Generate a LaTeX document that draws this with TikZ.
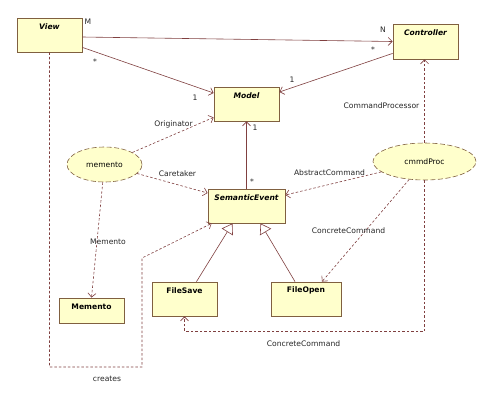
\documentclass[tikz,border=0pt]{standalone}
\usepackage{fontspec}
\setmainfont{DejaVu Sans}
\usetikzlibrary{arrows.meta,shapes.geometric}
\definecolor{boxfill}{RGB}{255,255,204}
\definecolor{boxline}{RGB}{128,96,64}
\definecolor{conn}{RGB}{128,64,64}
\begin{document}
\begin{tikzpicture}[x=1pt,y=-1pt,
 font=\fontsize{7.6}{9}\selectfont,
 cls/.style={draw=boxline, fill=boxfill, line width=0.8pt, inner sep=0pt},
 ttl/.style={font=\fontsize{7.6}{9}\selectfont\bfseries, inner sep=0pt},
 obj/.style={ellipse, draw=boxline, fill=boxfill, dash pattern=on 5pt off 2.5pt, line width=0.6pt, inner sep=0pt},
 assoc/.style={draw=conn, line width=0.6pt, -{Straight Barb[length=4pt,width=8pt]}},
 dep/.style={assoc, dash pattern=on 2.5pt off 2pt},
 inh/.style={draw=conn, line width=0.6pt, -{Triangle[open, length=10pt, width=13pt, fill=white]}},
 lbl/.style={inner sep=0pt, text=black!85}
]
\useasboundingbox (0,0) rectangle (492,400);
\fill[white] (0,0) rectangle (492,400);

% classes
\node[cls, minimum width=65pt, minimum height=34pt] (view) at (49.5,35) {};
\node[cls, minimum width=65pt, minimum height=35pt] (ctrl) at (425.5,41.5) {};
\node[cls, minimum width=65pt, minimum height=34pt] (model) at (246.5,104) {};
\node[cls, minimum width=77pt, minimum height=34pt] (sem) at (246.5,206) {};
\node[cls, minimum width=65pt, minimum height=25pt] (membox) at (91.5,310.5) {};
\node[cls, minimum width=65pt, minimum height=34pt] (filesave) at (184.5,299) {};
\node[cls, minimum width=70pt, minimum height=34pt] (fileopen) at (306,299) {};

\node[ttl] (viewt) at ([yshift=-9pt]view.north) {\itshape View};
\node[ttl] (ctrlt) at ([yshift=-9pt]ctrl.north) {\itshape Controller};
\node[ttl] (modelt) at ([yshift=-9pt]model.north) {\itshape Model};
\node[ttl] (semt) at ([yshift=-9pt]sem.north) {\itshape SemanticEvent};
\node[ttl] (memboxt) at ([yshift=-9pt]membox.north) {Memento};
\node[ttl] (filesavet) at ([yshift=-9pt]filesave.north) {FileSave};
\node[ttl] (fileopent) at ([yshift=-9pt]fileopen.north) {FileOpen};

% objects
\node[obj, minimum width=75pt, minimum height=35pt] (memento) at (104.5,164.5) {memento};
\node[obj, minimum width=103pt, minimum height=37pt] (cmmd) at (424.5,161.5) {cmmdProc};

% associations
\draw[assoc] ([yshift=-2pt]view.east) -- (ctrl.west);
\draw[assoc] ([yshift=5pt]view.south east) -- ([yshift=11pt]model.west);
\draw[assoc] ([yshift=6pt]ctrl.south west) -- ([yshift=12pt]model.east);
\draw[assoc] (sem.north) -- (model.south);

% dependencies
\draw[dep] (memento) -- ([yshift=4pt]model.south west);
\draw[dep] (memento) -- ([yshift=13pt]sem.west);
\draw[dep] (memento) -- (membox.north);
\draw[dep] (cmmd) -- ([yshift=11pt]sem.east);
\draw[dep] (cmmd) -- ([xshift=16pt]fileopen.north);
\draw[dep] (cmmd.north) -- (cmmd.north |- ctrl.south);
\draw[dep] (cmmd.south) -- ++(0,151) -| (filesave.south);
\coordinate (cr1) at (142,367);
\coordinate (cr2) at (142,258);
\draw[dep] (view.south) |- (cr1) -- (cr2) -- ([xshift=4pt]sem.south west);

% generalizations
\draw[inh] ([xshift=12pt]filesave.north) -- ([xshift=-14pt]sem.south);
\draw[inh] ([xshift=-11pt]fileopen.north) -- ([xshift=14pt]sem.south);

% labels
\node[lbl] (lM) at (88,22) {M};
\node[lbl] (lN) at (383,30) {N};
\node[lbl] (ls1) at (373,50) {*};
\node[lbl] (ls2) at (95,62) {*};
\node[lbl] (l1a) at (195,98) {1};
\node[lbl] (l1b) at (292,80) {1};
\node[lbl] (l1c) at (255,128) {1};
\node[lbl] (ls3) at (252,182) {*};
\node[lbl] (lorig) at (173.5,124) {Originator};
\node[lbl] (lcare) at (177.5,174) {Caretaker};
\node[lbl] (lmem) at (108,242) {Memento};
\node[lbl] (labs) at (329.5,173) {AbstractCommand};
\node[lbl] (lconc1) at (348.5,231) {ConcreteCommand};
\node[lbl] (lcp) at (381.5,106) {CommandProcessor};
\node[lbl] (lconc2) at (303.5,344) {ConcreteCommand};
\node[lbl] (lcreates) at (107,379) {creates};
\end{tikzpicture}
\end{document}
